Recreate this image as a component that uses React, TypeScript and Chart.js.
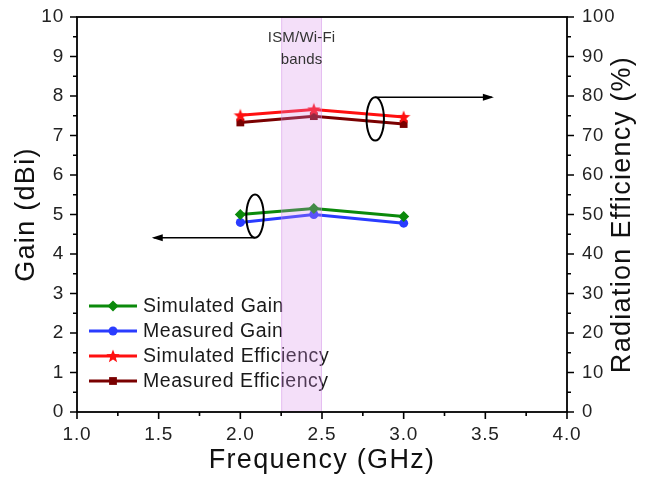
import React, { useEffect, useRef } from 'react';
import { Chart, registerables } from 'chart.js';

Chart.register(...registerables);

// ---- data ----
const frequencies = [2.0, 2.45, 3.0];
const simulatedGain = [5.0, 5.15, 4.95];
const measuredGain = [4.8, 5.0, 4.78];
const simulatedEfficiency = [75.1, 76.6, 74.7];
const measuredEfficiency = [73.3, 74.9, 72.9];
const seriesLabels = ['Simulated Gain', 'Measured Gain', 'Simulated Efficiency', 'Measured Efficiency'];
const ismBand = [2.25, 2.5];
const ismLabel = ['ISM/Wi-Fi', 'bands'];
// annotation anchors in data units: [x, y]
const gainEllipse = [2.09, 4.96];
const gainArrowEnd = [1.47, 4.43];
const effEllipse = [2.826, 7.42];
const effArrowEnd = [3.54, 7.92];

const FONT = '"Liberation Sans", Arial, Helvetica, sans-serif';
const colors = ['#0b8a0b', '#2a3cff', '#ff1010', '#7a0000'];

function makeStar(color: string, size: number) {
  const c = document.createElement('canvas');
  c.width = size; c.height = size;
  const g = c.getContext('2d')!;
  const cx = size / 2, cy = size / 2 + 0.5;
  const ro = size / 2, ri = ro * 0.42;
  g.beginPath();
  for (let i = 0; i < 10; i++) {
    const r = i % 2 === 0 ? ro : ri;
    const a = -Math.PI / 2 + (i * Math.PI) / 5;
    const px = cx + r * Math.cos(a), py = cy + r * Math.sin(a);
    if (i === 0) g.moveTo(px, py); else g.lineTo(px, py);
  }
  g.closePath();
  g.fillStyle = color;
  g.fill();
  return c;
}

function drawMarker(ctx: CanvasRenderingContext2D, i: number, mx: number, my: number, star: HTMLCanvasElement) {
  ctx.fillStyle = colors[i];
  ctx.beginPath();
  if (i === 0) {
    const r = 5.5;
    ctx.moveTo(mx, my - r); ctx.lineTo(mx + r, my); ctx.lineTo(mx, my + r); ctx.lineTo(mx - r, my); ctx.closePath();
    ctx.fill();
  } else if (i === 1) {
    ctx.arc(mx, my, 4.5, 0, Math.PI * 2);
    ctx.fill();
  } else if (i === 2) {
    ctx.drawImage(star, mx - 7, my - 7);
  } else {
    ctx.rect(mx - 3.9, my - 3.9, 7.8, 7.8);
    ctx.fill();
  }
}

export default function App() {
  const ref = useRef<HTMLCanvasElement | null>(null);
  useEffect(() => {
    if (!ref.current) return;
    const star = makeStar(colors[2], 14);
    const pointStyles: any[] = ['rectRot', 'circle', star, 'rect'];
    const radii = [5.5, 4.5, 7, 5.5];
    const mk = (vals: number[], i: number, axis: string) => ({
      label: seriesLabels[i],
      data: frequencies.map((f, k) => ({ x: f, y: vals[k] })),
      borderColor: colors[i],
      backgroundColor: colors[i],
      borderWidth: 3,
      pointStyle: pointStyles[i],
      pointRadius: radii[i],
      pointBorderWidth: 0,
      yAxisID: axis,
    });

    const overlay = {
      id: 'overlay',
      beforeDraw(chart: any) {
        (chart.ctx as any).letterSpacing = '0.8px';
      },
      afterDatasetsDraw(chart: any) {
        const ctx = chart.ctx;
        // legend
        ctx.save();
        const rows = [306, 331, 356, 381];
        const lx0 = 89, lx1 = 137, tx = 143;
        seriesLabels.forEach((lab, i) => {
          const yy = rows[i];
          ctx.strokeStyle = colors[i];
          ctx.lineWidth = 3;
          ctx.beginPath();
          ctx.moveTo(lx0, yy); ctx.lineTo(lx1, yy); ctx.stroke();
          drawMarker(ctx, i, (lx0 + lx1) / 2, yy, star);
          ctx.fillStyle = '#1a1a1a';
          ctx.font = `19.5px ${FONT}`;
          (ctx as any).letterSpacing = '0.55px';
          ctx.textAlign = 'left';
          ctx.textBaseline = 'middle';
          ctx.fillText(lab, tx, yy + 1);
        });
        ctx.restore();
      },
      afterDraw(chart: any) {
        const ctx = chart.ctx;
        const { left, right, top, bottom } = chart.chartArea;
        const x = chart.scales.x, y = chart.scales.y, y2 = chart.scales.y2;
        ctx.save();
        // band
        const bx0 = x.getPixelForValue(ismBand[0]);
        const bx1 = x.getPixelForValue(ismBand[1]);
        ctx.fillStyle = 'rgba(215,140,235,0.28)';
        ctx.fillRect(bx0, top, bx1 - bx0, bottom - top);
        ctx.strokeStyle = 'rgba(200,130,225,0.35)';
        ctx.lineWidth = 1;
        ctx.beginPath();
        ctx.moveTo(bx0 + 0.5, top); ctx.lineTo(bx0 + 0.5, bottom);
        ctx.moveTo(bx1 - 0.5, top); ctx.lineTo(bx1 - 0.5, bottom);
        ctx.stroke();
        // band label
        ctx.fillStyle = '#333';
        ctx.font = `15px ${FONT}`;
        (ctx as any).letterSpacing = '0.2px';
        ctx.textAlign = 'center';
        ctx.textBaseline = 'middle';
        const lcx = (bx0 + bx1) / 2;
        ctx.fillText(ismLabel[0], lcx, top + 21);
        ctx.fillText(ismLabel[1], lcx, top + 43);

        // ellipses + arrows
        const drawAnn = (ell: number[], end: number[], up: boolean) => {
          const ex = x.getPixelForValue(ell[0]);
          const ey = y.getPixelForValue(ell[1]);
          const rx = 8.7, ry = 21.7;
          ctx.strokeStyle = '#000';
          ctx.lineWidth = 2;
          ctx.beginPath();
          ctx.ellipse(ex, ey, rx, ry, 0, 0, Math.PI * 2);
          ctx.stroke();
          const ax = x.getPixelForValue(end[0]);
          const sy = up ? ey - ry : ey + ry;
          ctx.lineWidth = 1.5;
          ctx.beginPath();
          ctx.moveTo(ex, sy);
          ctx.lineTo(ax, sy);
          ctx.stroke();
          const dir = ax > ex ? 1 : -1;
          ctx.fillStyle = '#000';
          ctx.beginPath();
          ctx.moveTo(ax + dir * 2, sy);
          ctx.lineTo(ax - dir * 9, sy - 3.5);
          ctx.lineTo(ax - dir * 9, sy + 3.5);
          ctx.closePath();
          ctx.fill();
        };
        drawAnn(gainEllipse, gainArrowEnd, false);
        drawAnn(effEllipse, effArrowEnd, true);

        // frame
        ctx.strokeStyle = '#000';
        ctx.lineWidth = 1.8;
        ctx.strokeRect(left, top, right - left, bottom - top);
        // ticks
        ctx.lineWidth = 1.6;
        ctx.beginPath();
        for (let v = 1; v <= 4.0001; v += 0.25) {
          const px = x.getPixelForValue(v);
          const major = Math.abs(v * 2 - Math.round(v * 2)) < 1e-6;
          ctx.moveTo(px, bottom);
          ctx.lineTo(px, bottom + (major ? 7 : 4));
        }
        for (let v = 0; v <= 10.0001; v += 0.5) {
          const py = y.getPixelForValue(v);
          const major = Math.abs(v - Math.round(v)) < 1e-6;
          ctx.moveTo(left, py);
          ctx.lineTo(left - (major ? 7 : 4), py);
        }
        for (let v = 0; v <= 100.0001; v += 5) {
          const py = y2.getPixelForValue(v);
          const major = v % 10 === 0;
          ctx.moveTo(right, py);
          ctx.lineTo(right + (major ? 7 : 4), py);
        }
        ctx.stroke();

        // axis titles
        ctx.fillStyle = '#111';
        ctx.font = `27px ${FONT}`;
        (ctx as any).letterSpacing = '1.3px';
        ctx.textAlign = 'center';
        ctx.textBaseline = 'middle';
        ctx.fillText('Frequency (GHz)', (left + right) / 2, 460.5);
        ctx.save();
        ctx.translate(27, (top + bottom) / 2);
        ctx.rotate(-Math.PI / 2);
        ctx.fillText('Gain (dBi)', 0, 0);
        ctx.restore();
        ctx.save();
        ctx.translate(622.5, (top + bottom) / 2);
        ctx.rotate(-Math.PI / 2);
        ctx.fillText('Radiation Efficiency (%)', 0, 0);
        ctx.restore();
        ctx.restore();
      },
    };

    const tickFont = { family: FONT, size: 19 };
    const chart = new Chart(ref.current, {
      type: 'line',
      data: {
        datasets: [
          mk(simulatedGain, 0, 'y'),
          mk(measuredGain, 1, 'y'),
          mk(simulatedEfficiency, 2, 'y2'),
          mk(measuredEfficiency, 3, 'y2'),
        ] as any,
      },
      options: {
        animation: false,
        responsive: true,
        maintainAspectRatio: false,
        layout: { autoPadding: false, padding: { top: 17, left: 0, right: 0, bottom: 0 } },
        plugins: { legend: { display: false }, tooltip: { enabled: false } },
        scales: {
          x: {
            type: 'linear', min: 1, max: 4,
            ticks: { stepSize: 0.5, font: tickFont, color: '#222', padding: 11, maxRotation: 0, callback: (v: any) => Number(v).toFixed(1) },
            grid: { display: false, drawTicks: false }, border: { display: false },
            afterFit: (s: any) => { s.height = 67; },
          },
          y: {
            type: 'linear', position: 'left', min: 0, max: 10,
            ticks: { stepSize: 1, font: { family: FONT, size: 19, lineHeight: 0.2 }, color: '#222', padding: 13 },
            grid: { display: false, drawTicks: false }, border: { display: false },
            afterFit: (s: any) => { s.width = 77; },
          },
          y2: {
            type: 'linear', position: 'right', min: 0, max: 100,
            ticks: { stepSize: 10, font: { family: FONT, size: 18.5, lineHeight: 0.1 }, color: '#222', padding: 15 },
            grid: { display: false, drawTicks: false }, border: { display: false },
            afterFit: (s: any) => { s.width = 82; },
          },
        },
      } as any,
      plugins: [overlay],
    });
    return () => chart.destroy();
  }, []);

  return (
    <div style={{ position: 'fixed', left: 0, top: 0, width: 649, height: 479, background: '#fff' }}>
      <canvas ref={ref} />
    </div>
  );
}
